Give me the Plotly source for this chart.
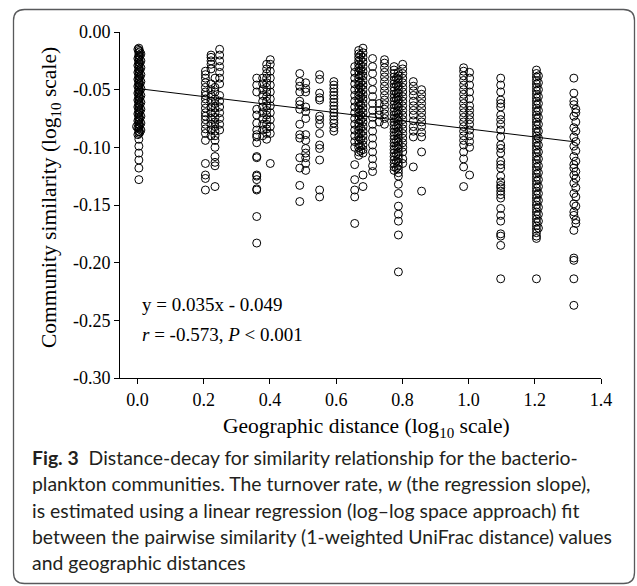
import plotly.graph_objects as go

# ---------------- data ----------------
x_ticks = [0.0, 0.2, 0.4, 0.6, 0.8, 1.0, 1.2, 1.4]
x_ticktext = ["0.0", "0.2", "0.4", "0.6", "0.8", "1.0", "1.2", "1.4"]
y_ticks = [0.0, -0.05, -0.10, -0.15, -0.20, -0.25, -0.30]
y_ticktext = ["0.00", "-0.05", "-0.10", "-0.15", "-0.20", "-0.25", "-0.30"]

slope = -0.035
intercept = -0.049
fit_x = [0.0, 1.32]
eq_text = "y = 0.035x - 0.049"
stat_text = "<i>r</i> = -0.573, <i>P</i> < 0.001"

y_a1 = [-0.014, -0.016, -0.018, -0.020, -0.022, -0.024, -0.026, -0.028, -0.030, -0.032,
        -0.034, -0.036, -0.038, -0.040, -0.042, -0.044, -0.046, -0.048, -0.050, -0.052,
        -0.054, -0.056, -0.058, -0.060, -0.062, -0.064, -0.066, -0.068, -0.070, -0.072,
        -0.074, -0.076, -0.078, -0.080, -0.082, -0.084, -0.086, -0.088, -0.093, -0.099,
        -0.105, -0.111, -0.118, -0.128]
y_a2 = [-0.019, -0.025, -0.031, -0.037, -0.043, -0.049, -0.055, -0.061, -0.067, -0.073,
        -0.079, -0.085]
y_a3 = [-0.082]
y_a4 = [-0.017, -0.021, -0.027, -0.033, -0.039, -0.045, -0.051, -0.057, -0.063, -0.069,
        -0.075, -0.081, -0.087]
y_a5 = [-0.015, -0.023, -0.029, -0.035, -0.041, -0.047, -0.053, -0.059, -0.065, -0.071,
        -0.077, -0.083, -0.089]
y_b1 = [-0.034, -0.037, -0.040, -0.044, -0.048, -0.052, -0.055, -0.058, -0.062, -0.066,
        -0.070, -0.073, -0.076, -0.080, -0.084, -0.088, -0.094, -0.114, -0.124, -0.127,
        -0.137]
y_b2 = [-0.020, -0.022, -0.025, -0.028, -0.032, -0.045, -0.050, -0.055, -0.060, -0.065,
        -0.070, -0.075, -0.080, -0.085, -0.090]
y_b3 = [-0.040, -0.048, -0.052, -0.058, -0.062, -0.066, -0.070, -0.074, -0.078, -0.082,
        -0.086, -0.090, -0.094, -0.100, -0.108, -0.113, -0.116, -0.134]
y_b4 = [-0.015, -0.020, -0.025, -0.030, -0.035, -0.040, -0.045, -0.055, -0.060, -0.065,
        -0.070, -0.075, -0.080, -0.085]
y_c1 = [-0.040, -0.046, -0.052, -0.067, -0.072, -0.079, -0.085, -0.089, -0.091, -0.096,
        -0.108, -0.109, -0.124, -0.125, -0.128, -0.136, -0.137, -0.160, -0.183]
y_c2 = [-0.040, -0.045, -0.050, -0.055, -0.060, -0.065, -0.070, -0.075, -0.080, -0.085,
        -0.090]
y_c3 = [-0.028, -0.032, -0.036, -0.040, -0.044, -0.048, -0.052, -0.056, -0.060, -0.064,
        -0.068, -0.072, -0.076, -0.080, -0.084, -0.088, -0.093]
y_c4 = [-0.024, -0.028, -0.034, -0.040, -0.046, -0.052, -0.058, -0.064, -0.070, -0.076,
        -0.082, -0.088, -0.114]
y_d1 = [-0.036, -0.043, -0.047, -0.052, -0.060, -0.063, -0.067, -0.080, -0.089, -0.092,
        -0.109, -0.118, -0.133, -0.147]
y_d2 = [-0.044, -0.049, -0.052, -0.065, -0.069, -0.075, -0.089, -0.094, -0.101, -0.105,
        -0.109, -0.114, -0.120]
y_d3 = [-0.037, -0.041, -0.053, -0.057, -0.059, -0.073, -0.076, -0.080, -0.088, -0.098,
        -0.101, -0.111, -0.137, -0.143]
y_d4 = [-0.043, -0.046, -0.049, -0.052, -0.055, -0.058, -0.061, -0.064, -0.067, -0.070,
        -0.073, -0.076, -0.079, -0.083, -0.086]
y_e1 = [-0.030, -0.035, -0.040, -0.045, -0.050, -0.055, -0.060, -0.065, -0.070, -0.075,
        -0.080, -0.085, -0.090, -0.095, -0.100, -0.115, -0.128, -0.137, -0.143, -0.166]
y_e2 = [-0.016, -0.019, -0.022, -0.025, -0.028, -0.031, -0.034, -0.037, -0.040, -0.043,
        -0.046, -0.049, -0.052, -0.055, -0.058, -0.061, -0.064, -0.067, -0.070, -0.073,
        -0.076, -0.079, -0.082, -0.085, -0.088, -0.091, -0.094, -0.097, -0.100, -0.104,
        -0.107]
y_e3 = [-0.014, -0.018, -0.022, -0.026, -0.030, -0.034, -0.038, -0.042, -0.046, -0.050,
        -0.054, -0.058, -0.062, -0.066, -0.070, -0.074, -0.078, -0.082, -0.086, -0.090,
        -0.094, -0.098, -0.102, -0.105, -0.124, -0.134]
y_e7 = [-0.020, -0.024, -0.029, -0.033, -0.038, -0.044, -0.048, -0.053, -0.057, -0.063,
        -0.068, -0.072, -0.077, -0.083, -0.088, -0.093, -0.099, -0.103]
y_e4 = [-0.023, -0.030, -0.036, -0.043, -0.050, -0.056, -0.062, -0.068, -0.074, -0.080,
        -0.086, -0.092, -0.098, -0.104, -0.110, -0.116, -0.121]
y_e5 = [-0.062, -0.068, -0.072, -0.078]
y_e6 = [-0.024, -0.027, -0.031, -0.035, -0.039, -0.043, -0.047, -0.051, -0.055, -0.059,
        -0.063, -0.067, -0.071, -0.075, -0.080]
y_f1 = [-0.030, -0.033, -0.036, -0.039, -0.042, -0.045, -0.048, -0.051, -0.054, -0.057,
        -0.060, -0.063, -0.066, -0.069, -0.072, -0.075, -0.078, -0.081, -0.084, -0.087,
        -0.090, -0.093, -0.096, -0.099, -0.102, -0.105, -0.108, -0.111, -0.114, -0.117,
        -0.120]
y_f2 = [-0.035, -0.038, -0.041, -0.044, -0.047, -0.050, -0.053, -0.056, -0.059, -0.062,
        -0.065, -0.068, -0.071, -0.074, -0.077, -0.080, -0.083, -0.086, -0.089, -0.092,
        -0.095, -0.098, -0.101, -0.104, -0.107, -0.110, -0.113, -0.116, -0.119, -0.122,
        -0.125, -0.132, -0.140, -0.151, -0.158, -0.164, -0.176, -0.208]
y_f3 = [-0.028, -0.032, -0.036, -0.040, -0.044, -0.048, -0.052, -0.056, -0.060, -0.064,
        -0.068, -0.072, -0.076, -0.080, -0.084, -0.088, -0.092, -0.096, -0.100, -0.104,
        -0.110, -0.114]
y_f6 = [-0.040, -0.046, -0.053, -0.058, -0.064, -0.070, -0.075, -0.082, -0.087, -0.094,
        -0.099, -0.106, -0.112, -0.118]
y_f4 = [-0.043, -0.047, -0.051, -0.055, -0.060, -0.064, -0.068, -0.072, -0.077, -0.082,
        -0.086, -0.091, -0.117]
y_f5 = [-0.050, -0.054, -0.058, -0.062, -0.066, -0.070, -0.074, -0.078, -0.082, -0.087,
        -0.091, -0.104, -0.138]
y_g1 = [-0.031, -0.034, -0.038, -0.042, -0.046, -0.050, -0.054, -0.058, -0.062, -0.066,
        -0.070, -0.074, -0.078, -0.082, -0.086, -0.090, -0.094, -0.098, -0.104, -0.110,
        -0.117, -0.134]
y_g2 = [-0.035, -0.040, -0.046, -0.052, -0.058, -0.064, -0.068, -0.072, -0.076, -0.080,
        -0.085, -0.090, -0.095, -0.100, -0.124]
y_h1 = [-0.040, -0.046, -0.052, -0.059, -0.062, -0.065, -0.072, -0.076, -0.080, -0.085,
        -0.091, -0.098, -0.101, -0.105, -0.112, -0.115, -0.118, -0.125, -0.130, -0.133,
        -0.135, -0.138, -0.141, -0.144, -0.153, -0.159, -0.164, -0.175, -0.177, -0.185,
        -0.214]
y_i1 = [-0.033, -0.036, -0.039, -0.042, -0.045, -0.048, -0.051, -0.054, -0.057, -0.060,
        -0.063, -0.066, -0.069, -0.072, -0.075, -0.078, -0.081, -0.084, -0.087, -0.090,
        -0.093, -0.096, -0.099, -0.102, -0.105, -0.108, -0.111, -0.114, -0.117, -0.120,
        -0.123, -0.126, -0.129, -0.132, -0.135, -0.138, -0.141, -0.144, -0.147, -0.150,
        -0.153, -0.156, -0.159, -0.162, -0.165, -0.168, -0.171, -0.174, -0.177, -0.179,
        -0.214]
y_i2 = [-0.038, -0.044, -0.050, -0.056, -0.062, -0.068, -0.074, -0.080, -0.086, -0.092,
        -0.098, -0.104, -0.110, -0.116, -0.122, -0.128, -0.134, -0.140, -0.146, -0.152,
        -0.158, -0.164, -0.170]
y_j1 = [-0.040, -0.053, -0.060, -0.063, -0.073, -0.083, -0.091, -0.099, -0.108, -0.115,
        -0.118, -0.124, -0.131, -0.140, -0.149, -0.156, -0.159, -0.172, -0.196, -0.198,
        -0.214, -0.237]
y_j2 = [-0.067, -0.070, -0.078, -0.086, -0.095, -0.103, -0.112, -0.121, -0.127, -0.135,
        -0.143, -0.151, -0.163, -0.166]

columns = [
    (0.004, y_a1), (0.010, y_a2), (-0.003, y_a3), (0.007, y_a4), (0.001, y_a5),
    (0.205, y_b1), (0.222, y_b2), (0.234, y_b3), (0.248, y_b4),
    (0.360, y_c1), (0.378, y_c2), (0.390, y_c3), (0.401, y_c4),
    (0.490, y_d1), (0.508, y_d2), (0.550, y_d3), (0.593, y_d4),
    (0.656, y_e1), (0.668, y_e2), (0.681, y_e3), (0.674, y_e7), (0.710, y_e4),
    (0.730, y_e5), (0.746, y_e6),
    (0.775, y_f1), (0.788, y_f2), (0.801, y_f3), (0.782, y_f6), (0.833, y_f4), (0.858, y_f5),
    (0.985, y_g1), (1.003, y_g2),
    (1.097, y_h1),
    (1.205, y_i1), (1.211, y_i2),
    (1.318, y_j1), (1.324, y_j2),
]

pts_x = []
pts_y = []
for cx, ys in columns:
    for v in ys:
        pts_x.append(cx)
        pts_y.append(v)

fit_y = [intercept + slope * v for v in fit_x]

# ---------------- layout geometry (pixels) ----------------
W, H = 637, 586
ML, MR, MT, MB = 120, 36, 32, 208
PW, PH = W - ML - MR, H - MT - MB


def px(xp):
    return (xp - ML) / PW


def py(yp):
    return (H - MB - yp) / PH


serif = "Liberation Serif"
sans = "Lato"

fig = go.Figure()
fig.add_trace(go.Scatter(
    x=pts_x, y=pts_y, mode="markers",
    marker=dict(symbol="circle-open", size=8, color="black", line=dict(width=1)),
    hoverinfo="skip", showlegend=False))
fig.add_trace(go.Scatter(
    x=fit_x, y=fit_y, mode="lines",
    line=dict(color="black", width=1), hoverinfo="skip", showlegend=False))

axis_common = dict(showgrid=False, zeroline=False, showline=True, linecolor="black",
                   linewidth=1, ticks="outside", ticklen=5, tickwidth=1, tickcolor="black",
                   tickfont=dict(family=serif, size=18, color="black"))

fig.update_xaxes(range=[-0.053, 1.4], tickvals=x_ticks, ticktext=x_ticktext, **axis_common)
fig.update_yaxes(range=[-0.30, 0.0], tickvals=y_ticks, ticktext=y_ticktext, **axis_common)

annotations = [
    dict(text="Geographic distance (log<sub>10</sub> scale)", x=px(366), y=py(427),
         xanchor="center", yanchor="middle", font=dict(family=serif, size=21.5, color="black")),
    dict(text="Community similarity (log<sub>10</sub> scale)", x=px(50), y=py(198),
         textangle=-90, xanchor="center", yanchor="middle",
         font=dict(family=serif, size=21.5, color="black")),
    dict(text=eq_text, x=px(140), y=py(304), xanchor="left", yanchor="middle",
         font=dict(family=serif, size=19, color="black")),
    dict(text=stat_text, x=px(140), y=py(334), xanchor="left", yanchor="middle",
         font=dict(family=serif, size=19, color="black")),
]

caption_lines = [
    "<b>Fig. 3</b>  Distance-decay for similarity relationship for the bacterio-",
    "plankton communities. The turnover rate, <i>w</i> (the regression slope),",
    "is estimated using a linear regression (log–log space approach) fit",
    "between the pairwise similarity (1-weighted UniFrac distance) values",
    "and geographic distances",
]
caption_y = [458, 484, 510, 536, 562]
for line, ly in zip(caption_lines, caption_y):
    annotations.append(dict(text=line, x=px(30), y=py(ly), xanchor="left", yanchor="middle",
                            font=dict(family=sans, size=19.4, color="#231f20")))

for a in annotations:
    a.update(xref="paper", yref="paper", showarrow=False)

# rounded border box
x0, x1, y0, y1, r = 13.5, 634.5, 9.5, 583.5, 11
path = (f"M {px(x0 + r)} {py(y0)} L {px(x1 - r)} {py(y0)} "
        f"Q {px(x1)} {py(y0)} {px(x1)} {py(y0 + r)} "
        f"L {px(x1)} {py(y1 - r)} Q {px(x1)} {py(y1)} {px(x1 - r)} {py(y1)} "
        f"L {px(x0 + r)} {py(y1)} Q {px(x0)} {py(y1)} {px(x0)} {py(y1 - r)} "
        f"L {px(x0)} {py(y0 + r)} Q {px(x0)} {py(y0)} {px(x0 + r)} {py(y0)} Z")

fig.update_layout(
    width=W, height=H, margin=dict(l=ML, r=MR, t=MT, b=MB, pad=0),
    plot_bgcolor="white", paper_bgcolor="white", showlegend=False,
    annotations=annotations,
    shapes=[dict(type="path", path=path, xref="paper", yref="paper",
                 line=dict(color="#58595b", width=1.3), layer="below")],
)

fig.write_html("out.html", config={"displayModeBar": False},
               post_script="document.body.style.margin='0';document.body.style.overflow='hidden';")
